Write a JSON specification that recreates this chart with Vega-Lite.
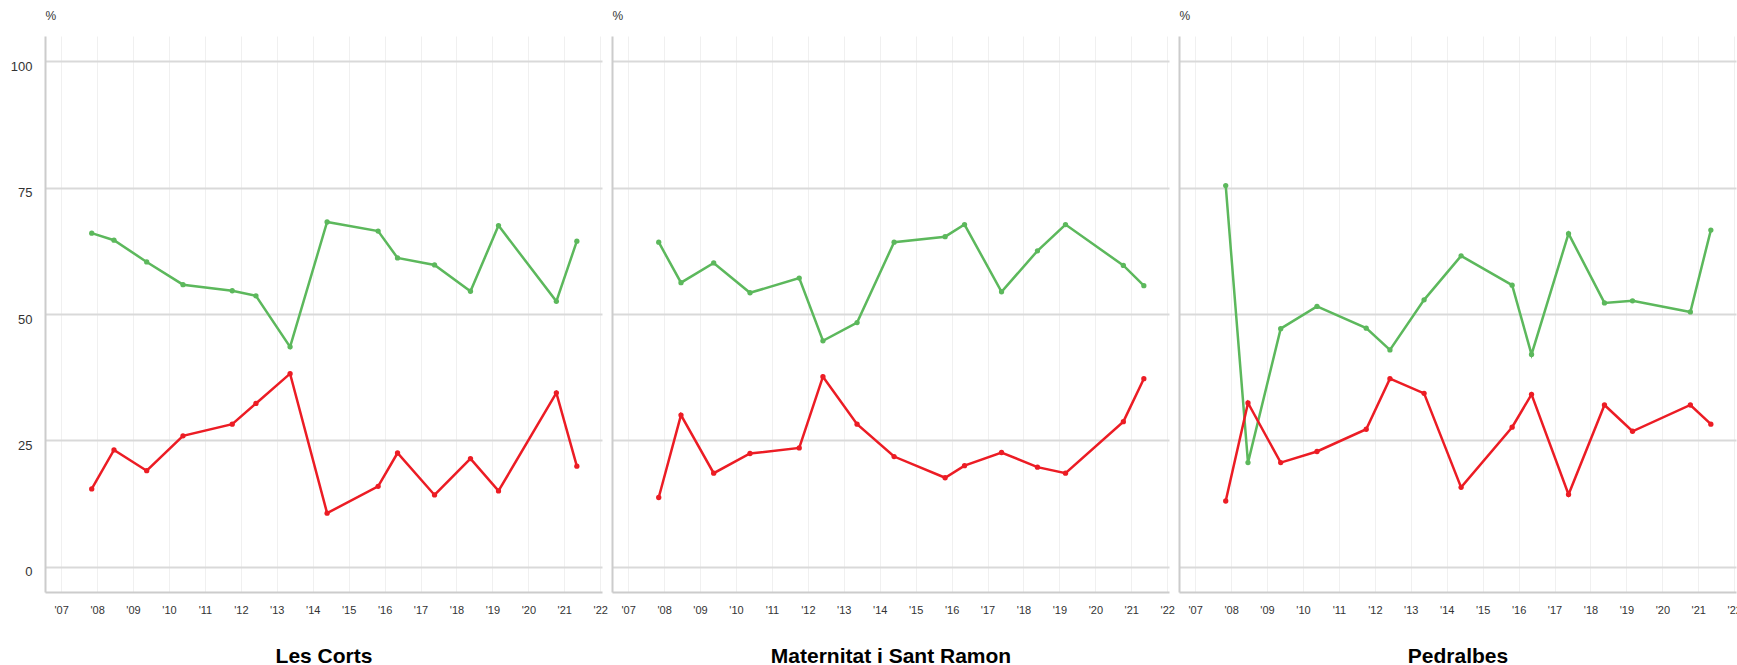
{
  "$schema": "https://vega.github.io/schema/vega-lite/v6.json",
  "padding": {"left": 10, "top": 9, "right": 0, "bottom": 0},
  "spacing": 10,
  "bounds": "flush",
  "config": {
    "font": "Liberation Sans",
    "view": {"stroke": null},
    "axis": {"labelFont": "Liberation Sans", "titleFont": "Liberation Sans"}
  },
  "data": {"values": [
    {"d":"Les Corts","s":"positiu","t":2007.85,"v":66.0},
    {"d":"Les Corts","s":"positiu","t":2008.47,"v":64.6},
    {"d":"Les Corts","s":"positiu","t":2009.38,"v":60.3},
    {"d":"Les Corts","s":"positiu","t":2010.39,"v":55.8},
    {"d":"Les Corts","s":"positiu","t":2011.76,"v":54.6},
    {"d":"Les Corts","s":"positiu","t":2012.42,"v":53.6},
    {"d":"Les Corts","s":"positiu","t":2013.37,"v":43.5},
    {"d":"Les Corts","s":"positiu","t":2014.40,"v":68.2},
    {"d":"Les Corts","s":"positiu","t":2015.82,"v":66.4},
    {"d":"Les Corts","s":"positiu","t":2016.36,"v":61.1},
    {"d":"Les Corts","s":"positiu","t":2017.39,"v":59.7},
    {"d":"Les Corts","s":"positiu","t":2018.39,"v":54.5},
    {"d":"Les Corts","s":"positiu","t":2019.17,"v":67.5},
    {"d":"Les Corts","s":"positiu","t":2020.78,"v":52.5},
    {"d":"Les Corts","s":"positiu","t":2021.35,"v":64.4},
    {"d":"Les Corts","s":"negatiu","t":2007.85,"v":15.4},
    {"d":"Les Corts","s":"negatiu","t":2008.47,"v":23.1},
    {"d":"Les Corts","s":"negatiu","t":2009.38,"v":19.0},
    {"d":"Les Corts","s":"negatiu","t":2010.39,"v":25.9},
    {"d":"Les Corts","s":"negatiu","t":2011.76,"v":28.2},
    {"d":"Les Corts","s":"negatiu","t":2012.42,"v":32.3},
    {"d":"Les Corts","s":"negatiu","t":2013.37,"v":38.2},
    {"d":"Les Corts","s":"negatiu","t":2014.40,"v":10.6},
    {"d":"Les Corts","s":"negatiu","t":2015.82,"v":15.9},
    {"d":"Les Corts","s":"negatiu","t":2016.36,"v":22.5},
    {"d":"Les Corts","s":"negatiu","t":2017.39,"v":14.2},
    {"d":"Les Corts","s":"negatiu","t":2018.39,"v":21.4},
    {"d":"Les Corts","s":"negatiu","t":2019.17,"v":15.0},
    {"d":"Les Corts","s":"negatiu","t":2020.78,"v":34.4},
    {"d":"Les Corts","s":"negatiu","t":2021.35,"v":19.9},
    {"d":"Maternitat i Sant Ramon","s":"positiu","t":2007.85,"v":64.2},
    {"d":"Maternitat i Sant Ramon","s":"positiu","t":2008.47,"v":56.2},
    {"d":"Maternitat i Sant Ramon","s":"positiu","t":2009.38,"v":60.1},
    {"d":"Maternitat i Sant Ramon","s":"positiu","t":2010.39,"v":54.2},
    {"d":"Maternitat i Sant Ramon","s":"positiu","t":2011.76,"v":57.1},
    {"d":"Maternitat i Sant Ramon","s":"positiu","t":2012.42,"v":44.7},
    {"d":"Maternitat i Sant Ramon","s":"positiu","t":2013.37,"v":48.3},
    {"d":"Maternitat i Sant Ramon","s":"positiu","t":2014.40,"v":64.2},
    {"d":"Maternitat i Sant Ramon","s":"positiu","t":2015.82,"v":65.3},
    {"d":"Maternitat i Sant Ramon","s":"positiu","t":2016.36,"v":67.7},
    {"d":"Maternitat i Sant Ramon","s":"positiu","t":2017.39,"v":54.4},
    {"d":"Maternitat i Sant Ramon","s":"positiu","t":2018.39,"v":62.5},
    {"d":"Maternitat i Sant Ramon","s":"positiu","t":2019.17,"v":67.7},
    {"d":"Maternitat i Sant Ramon","s":"positiu","t":2020.78,"v":59.6},
    {"d":"Maternitat i Sant Ramon","s":"positiu","t":2021.35,"v":55.6},
    {"d":"Maternitat i Sant Ramon","s":"negatiu","t":2007.85,"v":13.7},
    {"d":"Maternitat i Sant Ramon","s":"negatiu","t":2008.47,"v":30.0},
    {"d":"Maternitat i Sant Ramon","s":"negatiu","t":2009.38,"v":18.5},
    {"d":"Maternitat i Sant Ramon","s":"negatiu","t":2010.39,"v":22.4},
    {"d":"Maternitat i Sant Ramon","s":"negatiu","t":2011.76,"v":23.5},
    {"d":"Maternitat i Sant Ramon","s":"negatiu","t":2012.42,"v":37.6},
    {"d":"Maternitat i Sant Ramon","s":"negatiu","t":2013.37,"v":28.2},
    {"d":"Maternitat i Sant Ramon","s":"negatiu","t":2014.40,"v":21.8},
    {"d":"Maternitat i Sant Ramon","s":"negatiu","t":2015.82,"v":17.6},
    {"d":"Maternitat i Sant Ramon","s":"negatiu","t":2016.36,"v":20.0},
    {"d":"Maternitat i Sant Ramon","s":"negatiu","t":2017.39,"v":22.6},
    {"d":"Maternitat i Sant Ramon","s":"negatiu","t":2018.39,"v":19.7},
    {"d":"Maternitat i Sant Ramon","s":"negatiu","t":2019.17,"v":18.5},
    {"d":"Maternitat i Sant Ramon","s":"negatiu","t":2020.78,"v":28.7},
    {"d":"Maternitat i Sant Ramon","s":"negatiu","t":2021.35,"v":37.2},
    {"d":"Pedralbes","s":"positiu","t":2007.85,"v":75.4},
    {"d":"Pedralbes","s":"positiu","t":2008.47,"v":20.6},
    {"d":"Pedralbes","s":"positiu","t":2009.38,"v":47.1},
    {"d":"Pedralbes","s":"positiu","t":2010.39,"v":51.5},
    {"d":"Pedralbes","s":"positiu","t":2011.76,"v":47.2},
    {"d":"Pedralbes","s":"positiu","t":2012.42,"v":42.9},
    {"d":"Pedralbes","s":"positiu","t":2013.37,"v":52.8},
    {"d":"Pedralbes","s":"positiu","t":2014.40,"v":61.5},
    {"d":"Pedralbes","s":"positiu","t":2015.82,"v":55.7},
    {"d":"Pedralbes","s":"positiu","t":2016.36,"v":42.0},
    {"d":"Pedralbes","s":"positiu","t":2017.39,"v":65.9},
    {"d":"Pedralbes","s":"positiu","t":2018.39,"v":52.2},
    {"d":"Pedralbes","s":"positiu","t":2019.17,"v":52.6},
    {"d":"Pedralbes","s":"positiu","t":2020.78,"v":50.4},
    {"d":"Pedralbes","s":"positiu","t":2021.35,"v":66.6},
    {"d":"Pedralbes","s":"negatiu","t":2007.85,"v":13.0},
    {"d":"Pedralbes","s":"negatiu","t":2008.47,"v":32.4},
    {"d":"Pedralbes","s":"negatiu","t":2009.38,"v":20.6},
    {"d":"Pedralbes","s":"negatiu","t":2010.39,"v":22.8},
    {"d":"Pedralbes","s":"negatiu","t":2011.76,"v":27.2},
    {"d":"Pedralbes","s":"negatiu","t":2012.42,"v":37.2},
    {"d":"Pedralbes","s":"negatiu","t":2013.37,"v":34.3},
    {"d":"Pedralbes","s":"negatiu","t":2014.40,"v":15.7},
    {"d":"Pedralbes","s":"negatiu","t":2015.82,"v":27.6},
    {"d":"Pedralbes","s":"negatiu","t":2016.36,"v":34.1},
    {"d":"Pedralbes","s":"negatiu","t":2017.39,"v":14.3},
    {"d":"Pedralbes","s":"negatiu","t":2018.39,"v":32.0},
    {"d":"Pedralbes","s":"negatiu","t":2019.17,"v":26.8},
    {"d":"Pedralbes","s":"negatiu","t":2020.78,"v":32.0},
    {"d":"Pedralbes","s":"negatiu","t":2021.35,"v":28.2}
  ]},
  "hconcat": [
    {
      "width": 557, "height": 556,
      "transform": [{"filter": "datum.d === 'Les Corts'"}],
      "encoding": {
        "x": {"field": "t", "type": "quantitative",
          "scale": {"domain": [2006.55, 2022.05], "nice": false, "zero": false},
          "axis": {"title": "Les Corts", "values": [2007,2008,2009,2010,2011,2012,2013,2014,2015,2016,2017,2018,2019,2020,2021,2022],
            "labelExpr": "\"'\" + substring(toString(datum.value), 2)", "labelFontSize": 11, "labelColor": "#333333", "labelPadding": 12,
            "ticks": false, "grid": true, "gridColor": "#f0f0f0", "gridWidth": 1, "domainColor": "#cccccc", "domainWidth": 2,
            "titleFontSize": 21, "titleFontWeight": "bold", "titleColor": "#000000", "titleY": 70, "titleBaseline": "alphabetic"}},
        "y": {"field": "v", "type": "quantitative",
          "scale": {"domain": [-5, 105], "nice": false, "zero": false},
          "axis": {"title": "%", "titleAngle": 0, "titleX": 0, "titleY": -21, "titleAlign": "left", "titleBaseline": "middle",
            "titleFontSize": 12, "titleFontWeight": "normal", "titleColor": "#333333",
            "values": [0,25,50,75,100], "labelFontSize": 13, "labelColor": "#333333", "labelPadding": 13, "labelOffset": 5,
            "ticks": false, "grid": true, "gridColor": "#d9d9d9", "gridWidth": 2, "domainColor": "#cccccc", "domainWidth": 2}},
        "color": {"field": "s", "type": "nominal", "scale": {"domain": ["positiu","negatiu"], "range": ["#5cb85c","#ec1c24"]}, "legend": null}
      },
      "layer": [
        {"mark": {"type": "line", "strokeWidth": 2.5}},
        {"mark": {"type": "point", "filled": true, "opacity": 1, "size": 28}}
      ]
    },
    {
      "width": 557, "height": 556,
      "transform": [{"filter": "datum.d === 'Maternitat i Sant Ramon'"}],
      "encoding": {
        "x": {"field": "t", "type": "quantitative",
          "scale": {"domain": [2006.55, 2022.05], "nice": false, "zero": false},
          "axis": {"title": "Maternitat i Sant Ramon", "values": [2007,2008,2009,2010,2011,2012,2013,2014,2015,2016,2017,2018,2019,2020,2021,2022],
            "labelExpr": "\"'\" + substring(toString(datum.value), 2)", "labelFontSize": 11, "labelColor": "#333333", "labelPadding": 12,
            "ticks": false, "grid": true, "gridColor": "#f0f0f0", "gridWidth": 1, "domainColor": "#cccccc", "domainWidth": 2,
            "titleFontSize": 21, "titleFontWeight": "bold", "titleColor": "#000000", "titleY": 70, "titleBaseline": "alphabetic"}},
        "y": {"field": "v", "type": "quantitative",
          "scale": {"domain": [-5, 105], "nice": false, "zero": false},
          "axis": {"title": "%", "titleAngle": 0, "titleX": 0, "titleY": -21, "titleAlign": "left", "titleBaseline": "middle",
            "titleFontSize": 12, "titleFontWeight": "normal", "titleColor": "#333333",
            "values": [0,25,50,75,100], "labels": false,
            "ticks": false, "grid": true, "gridColor": "#d9d9d9", "gridWidth": 2, "domainColor": "#cccccc", "domainWidth": 2}},
        "color": {"field": "s", "type": "nominal", "scale": {"domain": ["positiu","negatiu"], "range": ["#5cb85c","#ec1c24"]}, "legend": null}
      },
      "layer": [
        {"mark": {"type": "line", "strokeWidth": 2.5}},
        {"mark": {"type": "point", "filled": true, "opacity": 1, "size": 28}}
      ]
    },
    {
      "width": 557, "height": 556,
      "transform": [{"filter": "datum.d === 'Pedralbes'"}],
      "encoding": {
        "x": {"field": "t", "type": "quantitative",
          "scale": {"domain": [2006.55, 2022.05], "nice": false, "zero": false},
          "axis": {"title": "Pedralbes", "values": [2007,2008,2009,2010,2011,2012,2013,2014,2015,2016,2017,2018,2019,2020,2021,2022],
            "labelExpr": "\"'\" + substring(toString(datum.value), 2)", "labelFontSize": 11, "labelColor": "#333333", "labelPadding": 12,
            "ticks": false, "grid": true, "gridColor": "#f0f0f0", "gridWidth": 1, "domainColor": "#cccccc", "domainWidth": 2,
            "titleFontSize": 21, "titleFontWeight": "bold", "titleColor": "#000000", "titleY": 70, "titleBaseline": "alphabetic"}},
        "y": {"field": "v", "type": "quantitative",
          "scale": {"domain": [-5, 105], "nice": false, "zero": false},
          "axis": {"title": "%", "titleAngle": 0, "titleX": 0, "titleY": -21, "titleAlign": "left", "titleBaseline": "middle",
            "titleFontSize": 12, "titleFontWeight": "normal", "titleColor": "#333333",
            "values": [0,25,50,75,100], "labels": false,
            "ticks": false, "grid": true, "gridColor": "#d9d9d9", "gridWidth": 2, "domainColor": "#cccccc", "domainWidth": 2}},
        "color": {"field": "s", "type": "nominal", "scale": {"domain": ["positiu","negatiu"], "range": ["#5cb85c","#ec1c24"]}, "legend": null}
      },
      "layer": [
        {"mark": {"type": "line", "strokeWidth": 2.5}},
        {"mark": {"type": "point", "filled": true, "opacity": 1, "size": 28}}
      ]
    }
  ],
  "resolve": {"scale": {"x": "independent", "y": "independent"}}
}
